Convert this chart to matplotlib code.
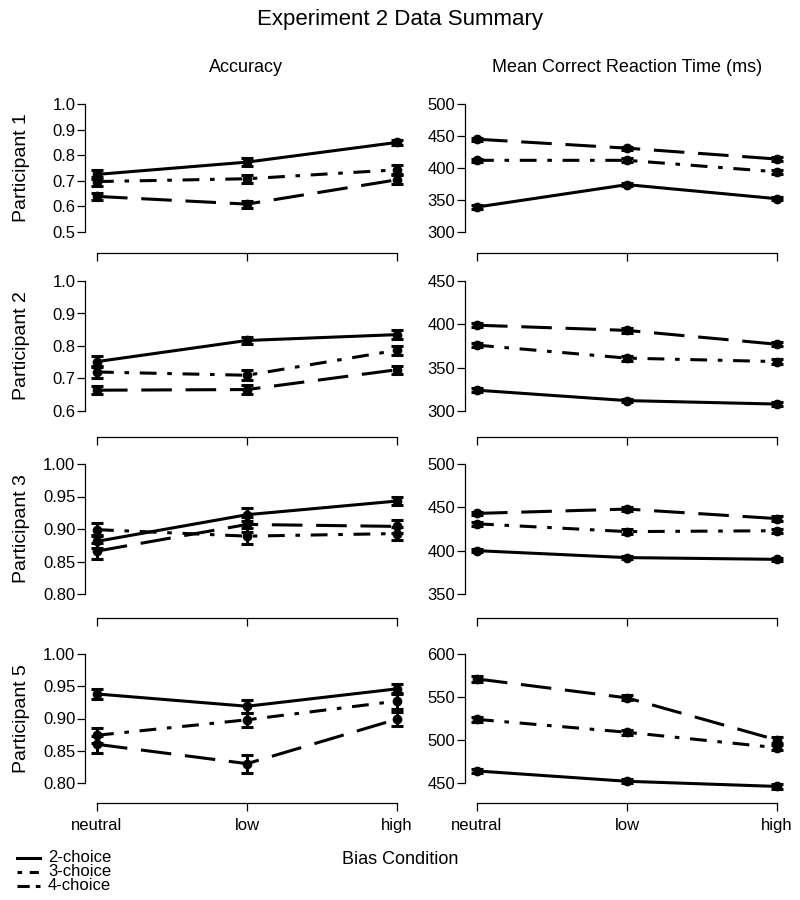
import matplotlib
matplotlib.use("Agg")
import matplotlib.pyplot as plt
import matplotlib.transforms as mtransforms
import numpy as np

plt.rcParams['font.family'] = ['Liberation Sans', 'DejaVu Sans']

conditions = ['neutral', 'low', 'high']
participants = ['Participant 1', 'Participant 2', 'Participant 3', 'Participant 5']
series_names = ['2-choice', '3-choice', '4-choice']

# accuracy means / standard errors, per participant, per choice set
acc_p1 = [[0.725, 0.773, 0.850], [0.697, 0.708, 0.743], [0.639, 0.609, 0.704]]
acc_p1_se = [[0.018, 0.015, 0.011], [0.018, 0.015, 0.017], [0.015, 0.014, 0.018]]
acc_p2 = [[0.752, 0.817, 0.835], [0.720, 0.710, 0.787], [0.664, 0.666, 0.727]]
acc_p2_se = [[0.016, 0.012, 0.013], [0.018, 0.016, 0.014], [0.012, 0.015, 0.012]]
acc_p3 = [[0.881, 0.922, 0.943], [0.899, 0.889, 0.893], [0.866, 0.907, 0.904]]
acc_p3_se = [[0.010, 0.010, 0.006], [0.010, 0.012, 0.010], [0.012, 0.012, 0.010]]
acc_p5 = [[0.938, 0.919, 0.946], [0.874, 0.898, 0.927], [0.860, 0.830, 0.899]]
acc_p5_se = [[0.008, 0.010, 0.008], [0.012, 0.011, 0.012], [0.013, 0.014, 0.011]]

# mean correct RT (ms)
rt_p1 = [[339, 374, 352], [412, 412, 394], [445, 431, 414]]
rt_p1_se = [[2.5, 2.5, 2.5], [2.5, 3, 3], [2.5, 2.5, 3]]
rt_p2 = [[324, 312, 308], [376, 361, 357], [399, 393, 377]]
rt_p2_se = [[2, 2, 2], [2, 3, 2.5], [2, 3, 2.5]]
rt_p3 = [[400, 392, 390], [431, 422, 423], [443, 448, 437]]
rt_p3_se = [[2, 2, 2], [2.5, 2.5, 2.5], [2, 2.5, 2.5]]
rt_p5 = [[464, 452, 446], [524, 509, 491], [571, 549, 500]]
rt_p5_se = [[2.5, 2.5, 2.5], [3, 3, 3], [3, 3, 4]]

acc_ticks = [[0.5, 0.6, 0.7, 0.8, 0.9, 1.0], [0.6, 0.7, 0.8, 0.9, 1.0],
             [0.80, 0.85, 0.90, 0.95, 1.00], [0.80, 0.85, 0.90, 0.95, 1.00]]
acc_fmt = ['%.1f', '%.1f', '%.2f', '%.2f']
rt_ticks = [[300, 350, 400, 450, 500], [300, 350, 400, 450],
            [350, 400, 450, 500], [450, 500, 550, 600]]

acc_data = [(acc_p1, acc_p1_se), (acc_p2, acc_p2_se), (acc_p3, acc_p3_se), (acc_p5, acc_p5_se)]
rt_data = [(rt_p1, rt_p1_se), (rt_p2, rt_p2_se), (rt_p3, rt_p3_se), (rt_p5, rt_p5_se)]

styles = ['-', (0, (5.5, 3.5, 1.5, 3.5)), (0, (10, 4.5))]

# layout in pixels (figure is 800x900)
W, H = 800, 900
col_left = [85, 465]
col_w = 324
row_top_tick = [104, 281, 464, 654]
row_bot_tick = [232, 411, 594, 783]
row_axis = [253, 437, 618, 803]
pad_top = 12

fig = plt.figure(figsize=(8, 9), dpi=100)
x = np.arange(1, 4)


def panel(col, row, data, ticks, fmt):
    top = row_top_tick[row] - pad_top
    bot = row_axis[row]
    ax = fig.add_axes([col_left[col] / W, 1 - bot / H, col_w / W, (bot - top) / H])
    lo, hi = ticks[0], ticks[-1]
    scale = (hi - lo) / (row_bot_tick[row] - row_top_tick[row])
    ax.set_ylim(lo - (bot - row_bot_tick[row]) * scale, hi + pad_top * scale)
    ax.set_xlim(0.92, 3.08)
    means, ses = data
    for m, s, ls in zip(means, ses, styles):
        ax.errorbar(x, m, yerr=s, color='black', lw=2.2, ls=ls, marker='o', ms=6,
                    capsize=4, capthick=2.2, elinewidth=2.2)
    for side in ['top', 'right']:
        ax.spines[side].set_visible(False)
    ax.spines['left'].set_bounds(lo, hi)
    ax.spines['bottom'].set_bounds(1, 3)
    for side in ['left', 'bottom']:
        ax.spines[side].set_linewidth(0.9)
    ax.set_yticks(ticks)
    ax.set_yticklabels([fmt % t for t in ticks])
    ax.set_xticks(x)
    if row == 3:
        ax.set_xticklabels(conditions)
    else:
        ax.set_xticklabels([])
    ax.tick_params(axis='both', labelsize=12, width=0.9, length=6, pad=1)
    ax.tick_params(axis='x', pad=5)
    if col == 0:
        tr = mtransforms.blended_transform_factory(fig.transFigure, ax.transData)
        ax.text(22 / W, (lo + hi) / 2, participants[row], transform=tr, rotation=90,
                ha='center', va='center', fontsize=14)
    return ax


for r in range(4):
    panel(0, r, acc_data[r], acc_ticks[r], acc_fmt[r])
    panel(1, r, rt_data[r], rt_ticks[r], '%d')

fig.text(0.5, 1 - 20 / H, 'Experiment 2 Data Summary', ha='center', va='center', fontsize=16)
fig.text(246 / W, 1 - 68 / H, 'Accuracy', ha='center', va='center', fontsize=13)
fig.text(627 / W, 1 - 68 / H, 'Mean Correct Reaction Time (ms)', ha='center', va='center', fontsize=13)
fig.text(0.5, 1 - 859 / H, 'Bias Condition', ha='center', va='center', fontsize=13)

# legend drawn by hand at the lower left
leg_ax = fig.add_axes([0, 0, 1, 1], facecolor='none')
leg_ax.set_xlim(0, W)
leg_ax.set_ylim(H, 0)
leg_ax.axis('off')
leg_styles = ['-', (0, (1.5, 2.5, 3, 2.5)), (0, (4, 2))]
for i, (name, ls) in enumerate(zip(series_names, leg_styles)):
    yy = 858 + 14 * i
    leg_ax.plot([17, 40], [yy, yy], color='black', lw=2.2, ls=ls)
    leg_ax.text(48, yy, name, va='center', ha='left', fontsize=12)

fig.savefig('out.png', dpi=100)
